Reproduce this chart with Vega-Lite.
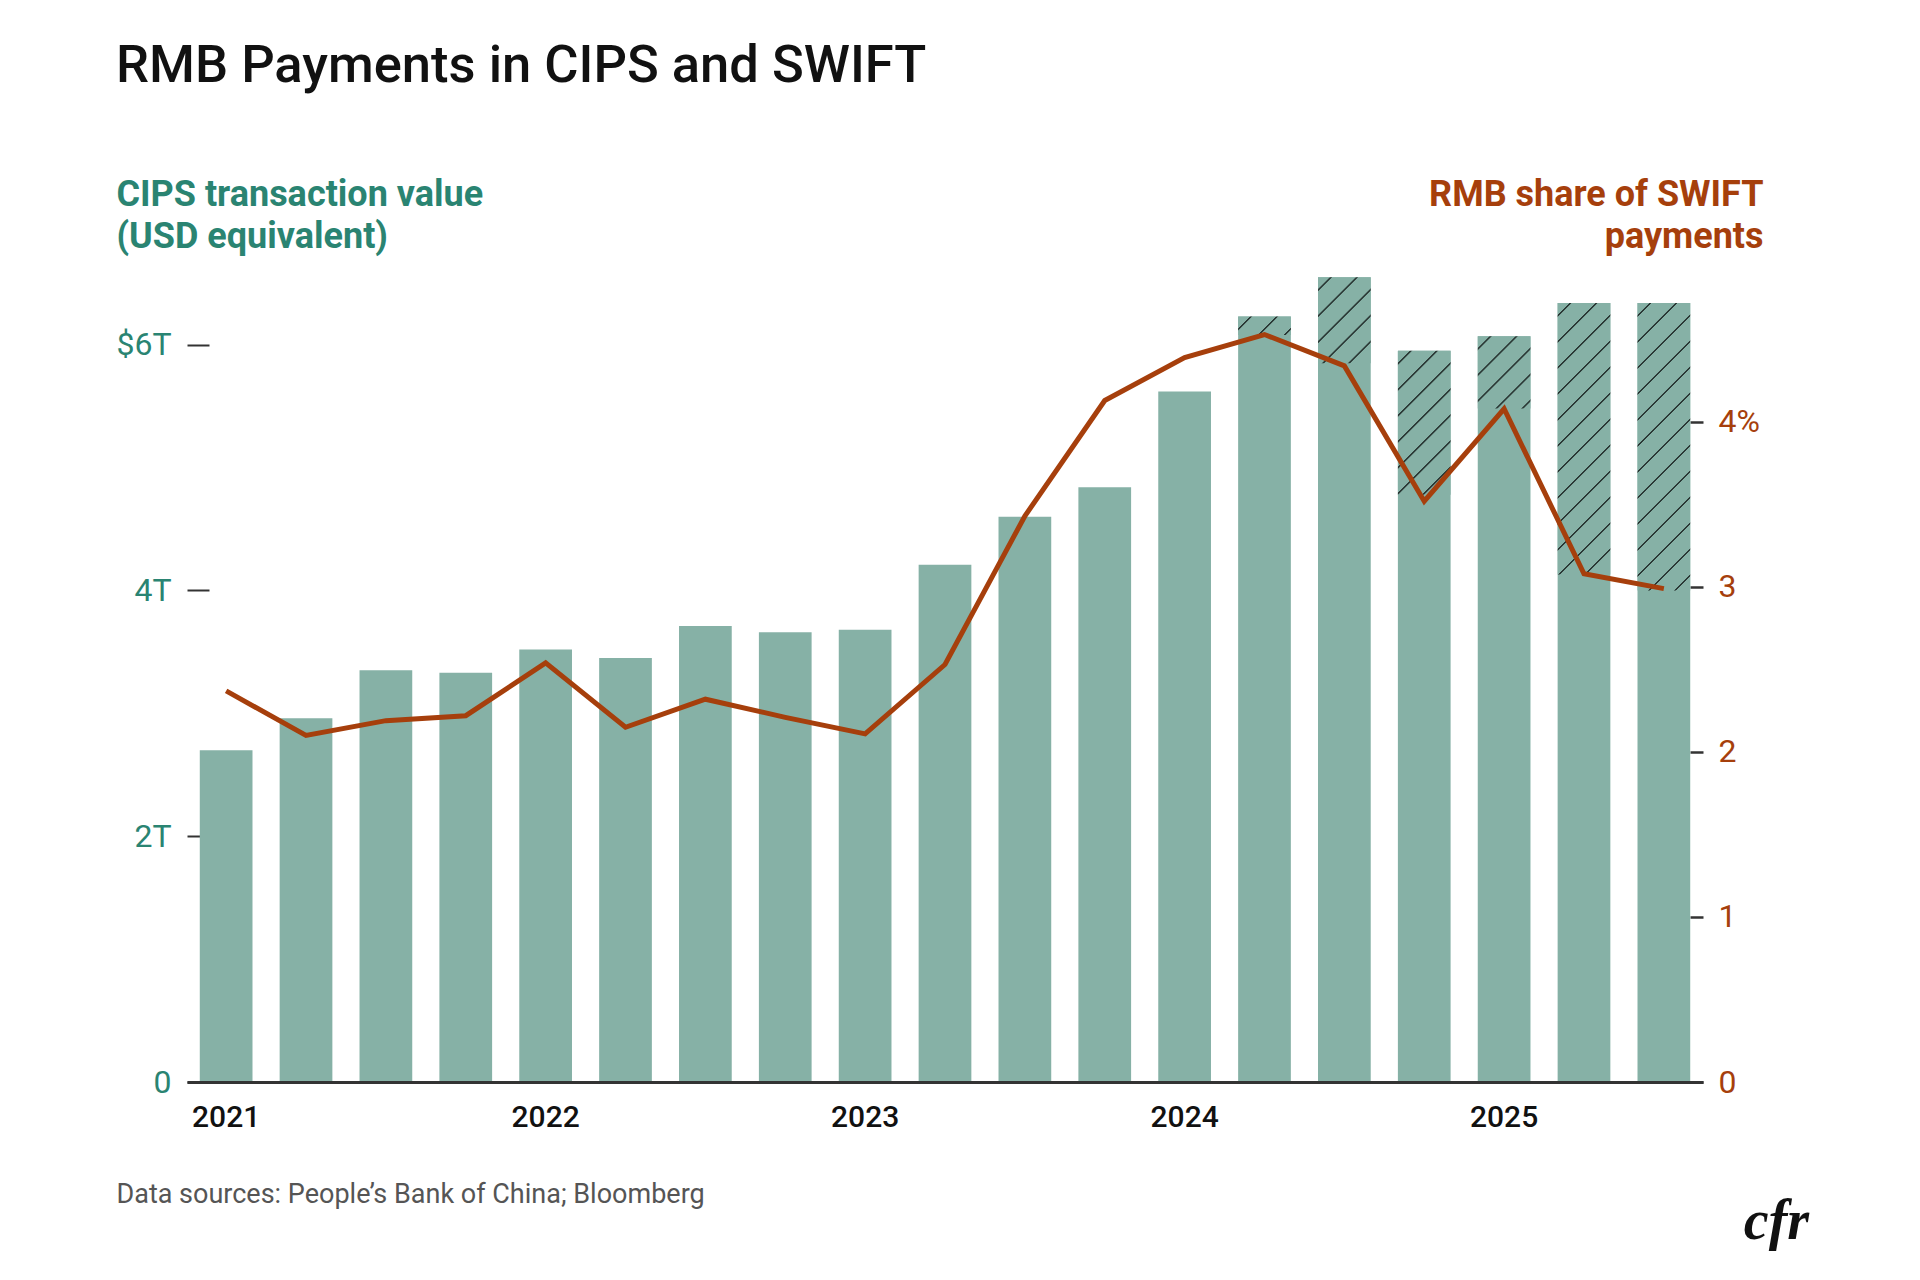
{
  "$schema": "https://vega.github.io/schema/vega-lite/v6.json",
  "width": 1516,
  "height": 811,
  "autosize": {"type": "none"},
  "padding": {"left": 187, "top": 271, "right": 217, "bottom": 198},
  "background": "white",
  "config": {"view": {"stroke": null}, "font": "Roboto"},
  "title": {
    "text": "RMB Payments in CIPS and SWIFT",
    "anchor": "start",
    "frame": "group",
    "font": "Roboto",
    "fontSize": 52.5,
    "fontWeight": 500,
    "color": "#111111",
    "dx": -71,
    "offset": 83
  },
  "data": {
    "values": [
      {"q": "2021 Q1", "cips": 2.70, "share": 2.37, "hatch_low": null},
      {"q": "2021 Q2", "cips": 2.96, "share": 2.10, "hatch_low": null},
      {"q": "2021 Q3", "cips": 3.35, "share": 2.19, "hatch_low": null},
      {"q": "2021 Q4", "cips": 3.33, "share": 2.22, "hatch_low": null},
      {"q": "2022 Q1", "cips": 3.52, "share": 2.54, "hatch_low": null},
      {"q": "2022 Q2", "cips": 3.45, "share": 2.15, "hatch_low": null},
      {"q": "2022 Q3", "cips": 3.71, "share": 2.32, "hatch_low": null},
      {"q": "2022 Q4", "cips": 3.66, "share": 2.21, "hatch_low": null},
      {"q": "2023 Q1", "cips": 3.68, "share": 2.11, "hatch_low": null},
      {"q": "2023 Q2", "cips": 4.21, "share": 2.53, "hatch_low": null},
      {"q": "2023 Q3", "cips": 4.60, "share": 3.43, "hatch_low": null},
      {"q": "2023 Q4", "cips": 4.84, "share": 4.13, "hatch_low": null},
      {"q": "2024 Q1", "cips": 5.62, "share": 4.39, "hatch_low": null},
      {"q": "2024 Q2", "cips": 6.23, "share": 4.53, "hatch_low": 6.08},
      {"q": "2024 Q3", "cips": 6.55, "share": 4.34, "hatch_low": 5.85},
      {"q": "2024 Q4", "cips": 5.95, "share": 3.52, "hatch_low": 4.78},
      {"q": "2025 Q1", "cips": 6.07, "share": 4.08, "hatch_low": 5.48},
      {"q": "2025 Q2", "cips": 6.34, "share": 3.08, "hatch_low": 4.13},
      {"q": "2025 Q3", "cips": 6.34, "share": 2.99, "hatch_low": 4.00}
    ]
  },
  "layer": [
    {
      "mark": {"type": "bar", "color": "#86b1a6"},
      "encoding": {
        "x": {
          "field": "q", "type": "ordinal",
          "scale": {"type": "band", "paddingInner": 0.34, "paddingOuter": 0.16},
          "axis": {
            "zindex": 1,
            "title": "Data sources: People’s Bank of China; Bloomberg",
            "titleX": -71, "titleY": 120, "titleAlign": "left", "titleAnchor": "start",
            "titleBaseline": "alphabetic", "titleFont": "Roboto", "titleFontSize": 27,
            "titleFontWeight": "normal", "titleColor": "#555555",
            "labelExpr": "slice(datum.value, 5) === 'Q1' ? slice(datum.value, 0, 4) : ''",
            "labelAngle": 0, "labelFontSize": 30, "labelFontWeight": 500, "labelColor": "#111111",
            "labelPadding": 20, "ticks": false, "domain": true, "domainColor": "#333333", "domainWidth": 3
          }
        },
        "y": {
          "field": "cips", "type": "quantitative",
          "scale": {"domain": [0, 6.6], "nice": false},
          "axis": {
            "values": [0, 2, 4, 6],
            "labelExpr": "datum.value == 0 ? '0' : (datum.value == 6 ? '$6T' : datum.value + 'T')",
            "domain": false, "grid": false, "ticks": true, "tickSize": -22, "tickWidth": 2, "tickColor": "#333333",
            "labelPadding": 38, "labelFontSize": 32, "labelColor": "#2a8472",
            "title": ["CIPS transaction value", "(USD equivalent)"],
            "titleAngle": 0, "titleAlign": "left", "titleBaseline": "alphabetic",
            "titleX": -71, "titleY": -66, "titleFontSize": 36, "titleFontWeight": "bold",
            "titleColor": "#2a8472", "titleLineHeight": 42
          }
        }
      }
    },
    {
      "transform": [{"filter": "datum.hatch_low != null"}],
      "mark": {"type": "bar"},
      "encoding": {
        "x": {"field": "q", "type": "ordinal", "scale": {"type": "band", "paddingInner": 0.34, "paddingOuter": 0.16}, "axis": null},
        "y": {"field": "cips", "type": "quantitative", "scale": {"domain": [0, 6.6], "nice": false}, "axis": null},
        "y2": {"field": "hatch_low"},
        "fill": {
          "condition": [
            {"test": "datum.q === '2024 Q2'", "value": {"gradient": "linear", "x1": 0, "y1": 0, "x2": 1.2025, "y2": 0.4199, "stops": [
              {"offset": 0.1617, "color": "#86b1a6"}, {"offset": 0.1730, "color": "#2b3936"}, {"offset": 0.1927, "color": "#2b3936"}, {"offset": 0.2039, "color": "#86b1a6"},
              {"offset": 0.5274, "color": "#86b1a6"}, {"offset": 0.5387, "color": "#2b3936"}, {"offset": 0.5584, "color": "#2b3936"}, {"offset": 0.5696, "color": "#86b1a6"},
              {"offset": 0.8931, "color": "#86b1a6"}, {"offset": 0.9044, "color": "#2b3936"}, {"offset": 0.9241, "color": "#2b3936"}, {"offset": 0.9353, "color": "#86b1a6"}
            ]}},
            {"test": "datum.q === '2024 Q3'", "value": {"gradient": "linear", "x1": 0, "y1": 0, "x2": 0.7185, "y2": 1.1725, "stops": [
              {"offset": 0.0829, "color": "#86b1a6"}, {"offset": 0.0887, "color": "#2b3936"}, {"offset": 0.0988, "color": "#2b3936"}, {"offset": 0.1045, "color": "#86b1a6"},
              {"offset": 0.2704, "color": "#86b1a6"}, {"offset": 0.2761, "color": "#2b3936"}, {"offset": 0.2862, "color": "#2b3936"}, {"offset": 0.2920, "color": "#86b1a6"},
              {"offset": 0.4578, "color": "#86b1a6"}, {"offset": 0.4636, "color": "#2b3936"}, {"offset": 0.4737, "color": "#2b3936"}, {"offset": 0.4795, "color": "#86b1a6"},
              {"offset": 0.6453, "color": "#86b1a6"}, {"offset": 0.6510, "color": "#2b3936"}, {"offset": 0.6611, "color": "#2b3936"}, {"offset": 0.6669, "color": "#86b1a6"},
              {"offset": 0.8327, "color": "#86b1a6"}, {"offset": 0.8385, "color": "#2b3936"}, {"offset": 0.8486, "color": "#2b3936"}, {"offset": 0.8544, "color": "#86b1a6"}
            ]}},
            {"test": "datum.q === '2024 Q4'", "value": {"gradient": "linear", "x1": 0, "y1": 0, "x2": 0.4415, "y2": 1.2047, "stops": [
              {"offset": 0.0585, "color": "#86b1a6"}, {"offset": 0.0626, "color": "#2b3936"}, {"offset": 0.0697, "color": "#2b3936"}, {"offset": 0.0738, "color": "#86b1a6"},
              {"offset": 0.1908, "color": "#86b1a6"}, {"offset": 0.1949, "color": "#2b3936"}, {"offset": 0.2020, "color": "#2b3936"}, {"offset": 0.2061, "color": "#86b1a6"},
              {"offset": 0.3232, "color": "#86b1a6"}, {"offset": 0.3272, "color": "#2b3936"}, {"offset": 0.3344, "color": "#2b3936"}, {"offset": 0.3384, "color": "#86b1a6"},
              {"offset": 0.4555, "color": "#86b1a6"}, {"offset": 0.4595, "color": "#2b3936"}, {"offset": 0.4667, "color": "#2b3936"}, {"offset": 0.4707, "color": "#86b1a6"},
              {"offset": 0.5878, "color": "#86b1a6"}, {"offset": 0.5919, "color": "#2b3936"}, {"offset": 0.5990, "color": "#2b3936"}, {"offset": 0.6031, "color": "#86b1a6"},
              {"offset": 0.7201, "color": "#86b1a6"}, {"offset": 0.7242, "color": "#2b3936"}, {"offset": 0.7313, "color": "#2b3936"}, {"offset": 0.7354, "color": "#86b1a6"},
              {"offset": 0.8524, "color": "#86b1a6"}, {"offset": 0.8565, "color": "#2b3936"}, {"offset": 0.8636, "color": "#2b3936"}, {"offset": 0.8677, "color": "#86b1a6"}
            ]}},
            {"test": "datum.q === '2025 Q1'", "value": {"gradient": "linear", "x1": 0, "y1": 0, "x2": 0.8213, "y2": 1.1299, "stops": [
              {"offset": 0.0919, "color": "#86b1a6"}, {"offset": 0.0982, "color": "#2b3936"}, {"offset": 0.1094, "color": "#2b3936"}, {"offset": 0.1158, "color": "#86b1a6"},
              {"offset": 0.2995, "color": "#86b1a6"}, {"offset": 0.3059, "color": "#2b3936"}, {"offset": 0.3171, "color": "#2b3936"}, {"offset": 0.3235, "color": "#86b1a6"},
              {"offset": 0.5072, "color": "#86b1a6"}, {"offset": 0.5136, "color": "#2b3936"}, {"offset": 0.5248, "color": "#2b3936"}, {"offset": 0.5312, "color": "#86b1a6"},
              {"offset": 0.7149, "color": "#86b1a6"}, {"offset": 0.7212, "color": "#2b3936"}, {"offset": 0.7324, "color": "#2b3936"}, {"offset": 0.7388, "color": "#86b1a6"},
              {"offset": 0.9225, "color": "#86b1a6"}, {"offset": 0.9289, "color": "#2b3936"}, {"offset": 0.9401, "color": "#2b3936"}, {"offset": 0.9465, "color": "#86b1a6"}
            ]}},
            {"test": "datum.q === '2025 Q2'", "value": {"gradient": "linear", "x1": 0, "y1": 0, "x2": 0.2233, "y2": 1.1507, "stops": [
              {"offset": 0.0355, "color": "#86b1a6"}, {"offset": 0.0379, "color": "#2b3936"}, {"offset": 0.0422, "color": "#2b3936"}, {"offset": 0.0447, "color": "#86b1a6"},
              {"offset": 0.1156, "color": "#86b1a6"}, {"offset": 0.1181, "color": "#2b3936"}, {"offset": 0.1224, "color": "#2b3936"}, {"offset": 0.1249, "color": "#86b1a6"},
              {"offset": 0.1958, "color": "#86b1a6"}, {"offset": 0.1983, "color": "#2b3936"}, {"offset": 0.2026, "color": "#2b3936"}, {"offset": 0.2051, "color": "#86b1a6"},
              {"offset": 0.2760, "color": "#86b1a6"}, {"offset": 0.2784, "color": "#2b3936"}, {"offset": 0.2828, "color": "#2b3936"}, {"offset": 0.2852, "color": "#86b1a6"},
              {"offset": 0.3562, "color": "#86b1a6"}, {"offset": 0.3586, "color": "#2b3936"}, {"offset": 0.3629, "color": "#2b3936"}, {"offset": 0.3654, "color": "#86b1a6"},
              {"offset": 0.4363, "color": "#86b1a6"}, {"offset": 0.4388, "color": "#2b3936"}, {"offset": 0.4431, "color": "#2b3936"}, {"offset": 0.4456, "color": "#86b1a6"},
              {"offset": 0.5165, "color": "#86b1a6"}, {"offset": 0.5190, "color": "#2b3936"}, {"offset": 0.5233, "color": "#2b3936"}, {"offset": 0.5257, "color": "#86b1a6"},
              {"offset": 0.5967, "color": "#86b1a6"}, {"offset": 0.5991, "color": "#2b3936"}, {"offset": 0.6035, "color": "#2b3936"}, {"offset": 0.6059, "color": "#86b1a6"},
              {"offset": 0.6768, "color": "#86b1a6"}, {"offset": 0.6793, "color": "#2b3936"}, {"offset": 0.6836, "color": "#2b3936"}, {"offset": 0.6861, "color": "#86b1a6"},
              {"offset": 0.7570, "color": "#86b1a6"}, {"offset": 0.7595, "color": "#2b3936"}, {"offset": 0.7638, "color": "#2b3936"}, {"offset": 0.7663, "color": "#86b1a6"},
              {"offset": 0.8372, "color": "#86b1a6"}, {"offset": 0.8397, "color": "#2b3936"}, {"offset": 0.8440, "color": "#2b3936"}, {"offset": 0.8464, "color": "#86b1a6"},
              {"offset": 0.9174, "color": "#86b1a6"}, {"offset": 0.9198, "color": "#2b3936"}, {"offset": 0.9241, "color": "#2b3936"}, {"offset": 0.9266, "color": "#86b1a6"}
            ]}},
            {"test": "datum.q === '2025 Q3'", "value": {"gradient": "linear", "x1": 0, "y1": 0, "x2": 0.2099, "y2": 1.1448, "stops": [
              {"offset": 0.0338, "color": "#86b1a6"}, {"offset": 0.0362, "color": "#2b3936"}, {"offset": 0.0403, "color": "#2b3936"}, {"offset": 0.0426, "color": "#86b1a6"},
              {"offset": 0.1102, "color": "#86b1a6"}, {"offset": 0.1126, "color": "#2b3936"}, {"offset": 0.1167, "color": "#2b3936"}, {"offset": 0.1190, "color": "#86b1a6"},
              {"offset": 0.1867, "color": "#86b1a6"}, {"offset": 0.1890, "color": "#2b3936"}, {"offset": 0.1931, "color": "#2b3936"}, {"offset": 0.1955, "color": "#86b1a6"},
              {"offset": 0.2631, "color": "#86b1a6"}, {"offset": 0.2654, "color": "#2b3936"}, {"offset": 0.2695, "color": "#2b3936"}, {"offset": 0.2719, "color": "#86b1a6"},
              {"offset": 0.3395, "color": "#86b1a6"}, {"offset": 0.3419, "color": "#2b3936"}, {"offset": 0.3460, "color": "#2b3936"}, {"offset": 0.3483, "color": "#86b1a6"},
              {"offset": 0.4159, "color": "#86b1a6"}, {"offset": 0.4183, "color": "#2b3936"}, {"offset": 0.4224, "color": "#2b3936"}, {"offset": 0.4248, "color": "#86b1a6"},
              {"offset": 0.4924, "color": "#86b1a6"}, {"offset": 0.4947, "color": "#2b3936"}, {"offset": 0.4988, "color": "#2b3936"}, {"offset": 0.5012, "color": "#86b1a6"},
              {"offset": 0.5688, "color": "#86b1a6"}, {"offset": 0.5711, "color": "#2b3936"}, {"offset": 0.5753, "color": "#2b3936"}, {"offset": 0.5776, "color": "#86b1a6"},
              {"offset": 0.6452, "color": "#86b1a6"}, {"offset": 0.6476, "color": "#2b3936"}, {"offset": 0.6517, "color": "#2b3936"}, {"offset": 0.6540, "color": "#86b1a6"},
              {"offset": 0.7216, "color": "#86b1a6"}, {"offset": 0.7240, "color": "#2b3936"}, {"offset": 0.7281, "color": "#2b3936"}, {"offset": 0.7305, "color": "#86b1a6"},
              {"offset": 0.7981, "color": "#86b1a6"}, {"offset": 0.8004, "color": "#2b3936"}, {"offset": 0.8045, "color": "#2b3936"}, {"offset": 0.8069, "color": "#86b1a6"},
              {"offset": 0.8745, "color": "#86b1a6"}, {"offset": 0.8768, "color": "#2b3936"}, {"offset": 0.8810, "color": "#2b3936"}, {"offset": 0.8833, "color": "#86b1a6"},
              {"offset": 0.9509, "color": "#86b1a6"}, {"offset": 0.9533, "color": "#2b3936"}, {"offset": 0.9574, "color": "#2b3936"}, {"offset": 0.9597, "color": "#86b1a6"}
            ]}}
          ],
          "value": "#86b1a6"
        }
      }
    },
    {
      "mark": {"type": "line", "color": "#a63f0c", "strokeWidth": 5, "strokeJoin": "miter", "strokeCap": "butt"},
      "encoding": {
        "x": {
          "field": "q", "type": "ordinal",
          "scale": {"type": "band", "paddingInner": 0.34, "paddingOuter": 0.16},
          "axis": {
            "orient": "bottom", "labels": false, "ticks": false, "domain": false,
            "title": "cfr", "titleX": 1589, "titleY": 156, "titleAlign": "center", "titleAnchor": "start",
            "titleBaseline": "alphabetic", "titleFont": "Liberation Serif", "titleFontStyle": "italic",
            "titleFontWeight": "bold", "titleFontSize": 56, "titleColor": "#111111"
          }
        },
        "y": {
          "field": "share", "type": "quantitative",
          "scale": {"domain": [0, 4.915], "nice": false},
          "axis": {
            "orient": "right",
            "values": [0, 1, 2, 3, 4],
            "labelExpr": "datum.value == 4 ? '4%' : datum.label",
            "domain": false, "grid": false, "ticks": true, "tickSize": -13, "tickWidth": 2.5, "tickColor": "#333333",
            "labelPadding": 28, "labelFontSize": 32, "labelColor": "#a63f0c",
            "title": ["RMB share of SWIFT", "payments"],
            "titleAngle": 0, "titleAlign": "right", "titleBaseline": "alphabetic",
            "titleX": 60, "titleY": -66, "titleFontSize": 36, "titleFontWeight": "bold",
            "titleColor": "#a63f0c", "titleLineHeight": 42
          }
        }
      }
    }
  ],
  "resolve": {"scale": {"y": "independent"}, "axis": {"x": "independent", "y": "independent"}}
}
